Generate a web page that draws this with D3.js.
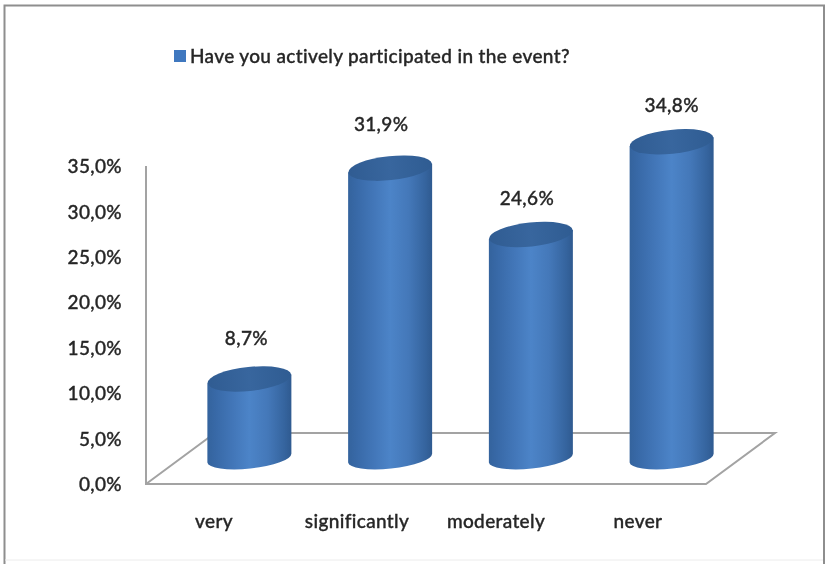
<!DOCTYPE html>
<html><head><meta charset="utf-8">
<script src="https://cdn.jsdelivr.net/npm/d3@7/dist/d3.min.js"></script>
<style>html,body{margin:0;padding:0;background:#fff}svg{display:block;filter:blur(0.4px)}text{font-family:Lato,"Open Sans",sans-serif;fill:#262626;font-weight:500;stroke:#262626;stroke-width:0.35px;letter-spacing:0.35px}</style>
</head><body><svg id="c" width="827" height="564"></svg>
<script>
const categories=["very","significantly","moderately","never"];
const values=[8.7,31.9,24.6,34.8];
const valueLabels=["8,7%","31,9%","24,6%","34,8%"];
const tickValues=[0,5,10,15,20,25,30,35];
const tickLabels=["0,0%","5,0%","10,0%","15,0%","20,0%","25,0%","30,0%","35,0%"];
const legendLabel="Have you actively participated in the event?";
const labelDx=[-3,-9,-4,0];
const labelDy=[-41,-44,-36,-36];
const catX=[214,357,496,638];

const svg=d3.select("#c");
const fs=19;
const y=d3.scaleLinear().domain([0,35]).range([484,166]);
const x=d3.scaleBand().domain(categories).range([179,742]).paddingInner(0);
const depthX=69,depthY=51,barShiftY=-26,rx=42,ry=12,ryBase=10.5,tilt=-6;
const cx=c=>x(c)+x.bandwidth()/2;

const defs=svg.append("defs");
const g=defs.append("linearGradient").attr("id","body").attr("x1",0).attr("x2",1).attr("y1",0).attr("y2",0);
[[0,"#34639d"],[0.1,"#3869a7"],[0.3,"#4276b8"],[0.5,"#4c84c8"],[0.72,"#4478b9"],[0.92,"#35649e"],[1,"#2f5a90"]].forEach(s=>g.append("stop").attr("offset",s[0]).attr("stop-color",s[1]));
const t=defs.append("linearGradient").attr("id","top").attr("x1",0).attr("x2",1).attr("y1",0).attr("y2",0);
[[0,"#305c92"],[0.5,"#38669e"],[1,"#2f5c92"]].forEach(s=>t.append("stop").attr("offset",s[0]).attr("stop-color",s[1]));

svg.append("path").attr("d","M4.5,564V5.5H824V564").attr("fill","none").attr("stroke","#8e8e8e").attr("stroke-width",2);
svg.append("path").attr("d","M5,560H823").attr("fill","none").attr("stroke","#ececec").attr("stroke-width",1);

const a=y(0),b=y(35),L=146,R=L+560;
const floor=d3.path();
floor.moveTo(L,b);floor.lineTo(L,a);floor.lineTo(R,a);floor.lineTo(R+depthX,a-depthY);floor.lineTo(L+depthX,a-depthY);floor.lineTo(L,a);
svg.append("path").attr("d",floor.toString()).attr("fill","none").attr("stroke","#a3a3a3").attr("stroke-width",2);

const axis=d3.axisLeft(y).tickValues(tickValues).tickFormat((d,i)=>tickLabels[i]).tickSize(0).tickPadding(0);
const ag=svg.append("g").attr("transform","translate(122,0)").call(axis);
ag.select(".domain").remove();
ag.selectAll("text").attr("font-size",fs).attr("text-anchor","end").attr("dy","0.35em").attr("x",0);

function cyl(c,v){
  const th=tilt*Math.PI/180;
  return {X:cx(c),yb:y(0)+barShiftY,yt:y(v)+barShiftY,dy:rx*Math.sin(th)};
}
const bars=svg.selectAll("g.bar").data(categories.map((c,i)=>({c,v:values[i],l:valueLabels[i],i}))).join("g").attr("class","bar");
bars.append("path").attr("fill","url(#body)").attr("d",d=>{
  const q=cyl(d.c,d.v),lx=q.X-rx,rxp=q.X+rx;
  return `M${lx},${q.yt-q.dy}L${lx},${q.yb-q.dy}A${rx},${ryBase} ${tilt} 0 0 ${rxp},${q.yb+q.dy}L${rxp},${q.yt+q.dy}Z`;
});
bars.append("ellipse").attr("fill","url(#top)").attr("rx",rx).attr("ry",ry)
  .attr("transform",d=>{const q=cyl(d.c,d.v);return `translate(${q.X},${q.yt}) rotate(${tilt})`});
bars.append("text").attr("x",d=>cx(d.c)+labelDx[d.i]).attr("y",d=>cyl(d.c,d.v).yt+labelDy[d.i]).attr("dy","0.35em").attr("text-anchor","middle").attr("font-size",fs).text(d=>d.l);

svg.selectAll("text.cat").data(categories).join("text").attr("class","cat").attr("x",(d,i)=>catX[i]).attr("y",528).attr("text-anchor","middle").attr("font-size",fs).text(d=>d);

svg.append("rect").attr("x",174).attr("y",50).attr("width",12).attr("height",12).attr("fill","#3f78bf");
svg.append("text").attr("x",190).attr("y",62.5).attr("font-size",fs).text(legendLabel);
</script></body></html>
